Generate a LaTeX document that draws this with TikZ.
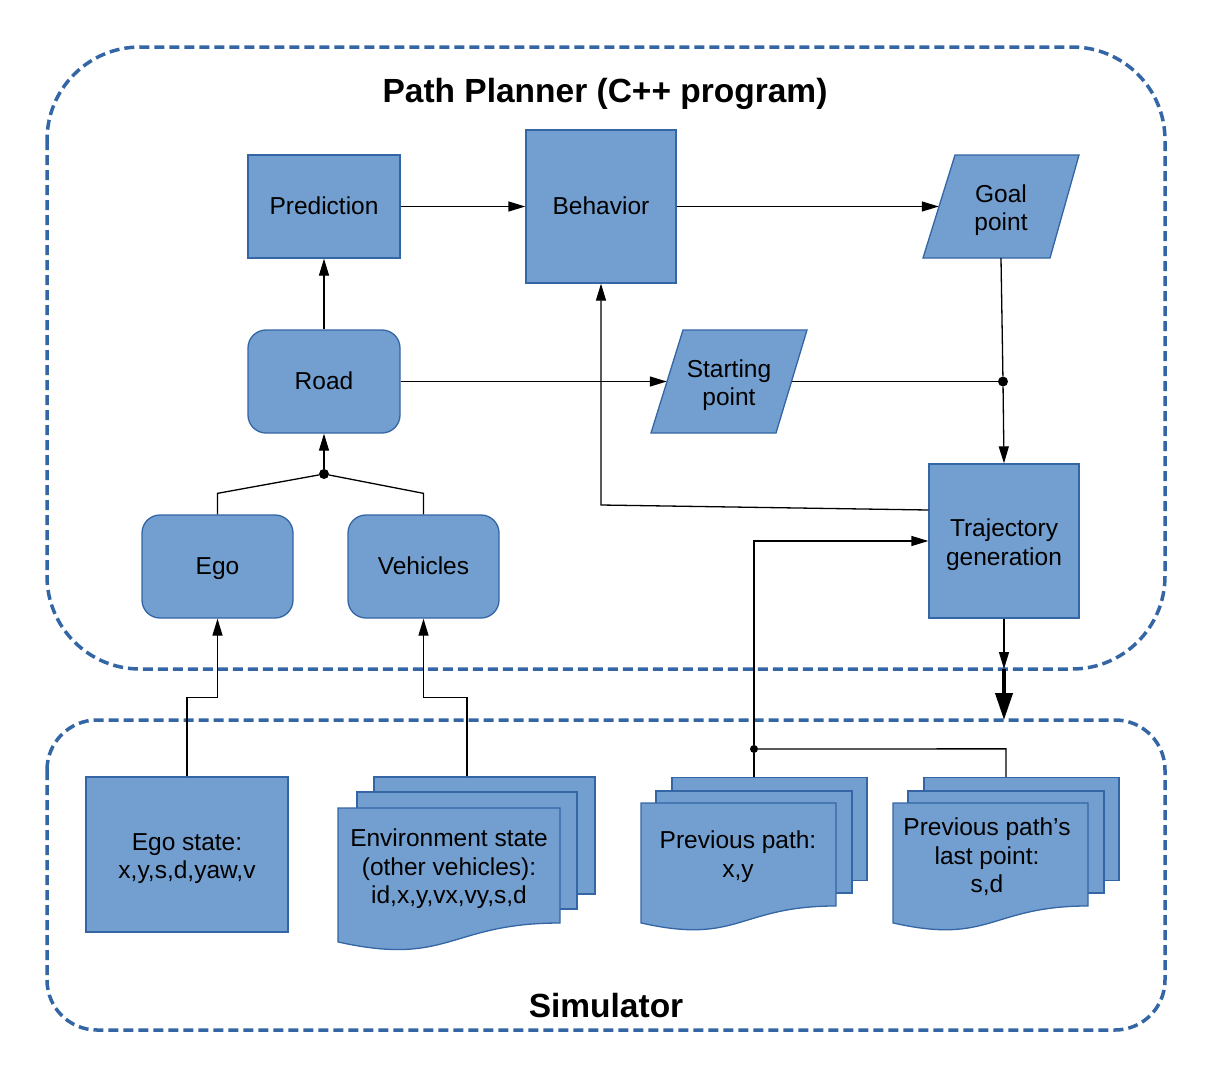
\documentclass[tikz,border=0pt]{standalone}
\usepackage{fontspec}
\setmainfont{Liberation Sans}
\usetikzlibrary{arrows.meta,calc}
\definecolor{blockfill}{HTML}{729FCF}
\definecolor{blockline}{HTML}{3465A4}
\newcommand\boxfont{\fontsize{24.5}{28.5}\selectfont}
\newcommand\headfont{\fontsize{33.5}{38}\selectfont\bfseries}
% line strut with the font's ascent and descent, so labels centre evenly
\newcommand\linestrut{\rule[-0.212em]{0pt}{1.117em}}
% taller strut for the first line of multi-line labels
\newcommand\firststrut{\rule[-0.212em]{0pt}{\dimexpr 1.117em+3.2pt\relax}}
\tikzset{
  lined/.style={execute at begin node=\linestrut, execute at end node=\linestrut},
  block/.style={draw=blockline, fill=blockfill, line width=1.3pt, align=center,
    font=\boxfont, inner sep=0pt, lined},
  roundblock/.style={block, rounded corners=18pt},
  sheet/.style={draw=blockline, fill=blockfill, line width=1.3pt, inner sep=0pt},
  shapefill/.style={draw=blockline, fill=blockfill, line width=1.3pt, line join=miter},
  txt/.style={align=center, font=\boxfont, inner sep=0pt, lined},
  headline/.style={font=\headfont, inner sep=0pt, anchor=base},
  link/.style={line width=1.3pt, -{Triangle[length=17pt,width=10pt]}},
  plain/.style={line width=1.3pt},
  bigarrow/.style={line width=4pt, -{Triangle[length=27pt,width=17pt]}},
  groupframe/.style={draw=blockline, line width=3.5pt, dash pattern=on 10pt off 5pt},
  dot/.style={circle, fill=black, inner sep=0pt, minimum size=10pt},
}
% parallelogram: bottom-left x, top-left x, top-right x, bottom-right x, top y, bottom y
\newcommand\slantbox[6]{%
  \draw[shapefill] (#1,#6) -- (#2,#5) -- (#3,#5) -- (#4,#6) -- cycle;}
% document sheet with wavy lower edge: left x, right x, top y, full height
\newcommand\docsheet[4]{%
  \draw[shapefill] (#1,#3) -- (#2,#3) -- (#2,{#3+0.802*#4})
    .. controls ({(#1+#2)/2},{#3+0.802*#4}) and ({(#1+#2)/2},{#3+1.1075*#4})
    .. (#1,{#3+0.9339*#4}) -- cycle;}
\begin{document}
\begin{tikzpicture}[x=1pt,y=-1pt]
\useasboundingbox (0,0) rectangle (1208,1071);

% group frames
\draw[groupframe, rounded corners=93pt] (47,47) rectangle (1165,669);
\draw[groupframe, rounded corners=50pt] (47,720) rectangle (1165,1030);
\node[headline] (plannertitle) at (605,102) {Path Planner (C++ program)};
\node[headline] (simtitle) at (606,1017) {Simulator};

% planner blocks
\node[block, minimum width=152pt, minimum height=103pt] (pred) at (324,206.5) {Prediction};
\node[block, minimum width=150pt, minimum height=153pt] (beh) at (601,206.5) {Behavior};
\slantbox{923}{955}{1079}{1050}{155}{258}
\node[txt, minimum width=156pt, minimum height=103pt] (goal) at (1001,206.5) {\firststrut Goal\\point};
\node[roundblock, minimum width=152pt, minimum height=103pt] (road) at (324,381.5) {Road};
\slantbox{651}{683}{807}{776}{330}{433}
\node[txt, minimum width=156pt, minimum height=103pt] (start) at (729,381.5) {\firststrut Starting\\point};
\node[block, minimum width=150pt, minimum height=154pt] (traj) at (1004,541) {\firststrut Trajectory\\generation};
\node[roundblock, minimum width=151pt, minimum height=103pt] (ego) at (217.5,566.5) {Ego};
\node[roundblock, minimum width=151pt, minimum height=103pt] (veh) at (423.5,566.5) {Vehicles};

% simulator data
\node[block, minimum width=202pt, minimum height=155pt] (egostate) at (187,854.5) {\firststrut Ego state:\\x,y,s,d,yaw,v};

\node[sheet, minimum width=221pt, minimum height=117pt] (envback) at (484.5,835.5) {};
\node[sheet, minimum width=220pt, minimum height=117pt] (envmid) at (467,850.5) {};
\docsheet{338}{560}{808}{143.4}
\node[txt] (envtext) at (449,865) {\firststrut Environment state\\(other vehicles):\\id,x,y,vx,vy,s,d};

\node[sheet, minimum width=195pt, minimum height=103pt] (ppback) at (769.5,829) {};
\node[sheet, minimum width=196pt, minimum height=102pt] (ppmid) at (754,842) {};
\docsheet{641}{836}{803}{128.4}
\node[txt] (pptext) at (738,853) {\firststrut Previous path:\\x,y};

\node[sheet, minimum width=195pt, minimum height=103pt] (lpback) at (1021.5,829) {};
\node[sheet, minimum width=196pt, minimum height=102pt] (lpmid) at (1006,842) {};
\docsheet{893}{1088}{803}{128.4}
\node[txt] (lptext) at (987,854) {\firststrut Previous path’s\\last point:\\s,d};

% junction points
\node[dot] (jgoal) at (1003,381.5) {};
\node[dot] (jroad) at (324,474) {};
\node[dot, minimum size=8pt] (jpath) at (754,749) {};
\coordinate (bret) at (601,505);
\coordinate (simtop) at (1004,669);
\coordinate (simin) at (1004,720);

% connectors
\draw[link] (pred.east) -- (beh.west);
\draw[link] (beh.east) -- ([xshift=16pt]goal.west);
\draw[link] (road.north) -- (pred.south);
\draw[link] (road.east) -- ([xshift=16pt]start.west);
\draw[plain] ([xshift=-15.5pt]start.east) -- (jgoal);
\draw[plain] (goal.south) -- (jgoal);
\draw[link] (jgoal) -- (traj.north);
\draw[link] ([yshift=31pt]traj.west) -- (bret) -- (beh.south);
\draw[plain] (ego.north) -- ++(0,-21) -- (jroad);
\draw[plain] (veh.north) -- ++(0,-21) -- (jroad);
\draw[link] (jroad) -- (road.south);
\draw[link] (egostate.north) -- ++(0,-79) -| (ego.south);
\draw[link] ([xshift=-17.5pt]envback.north) -- ++(0,-79) -| (veh.south);
\draw[plain] ([xshift=-15.5pt]ppback.north) -- (jpath);
\draw[plain] ([xshift=-15.5pt]lpback.north) -- ++(0,-28) -- (jpath);
\draw[link] (jpath) |- (traj.west);
\draw[link] (traj.south) -- (simtop);
\draw[bigarrow] (simtop) -- (simin);
\end{tikzpicture}
\end{document}
